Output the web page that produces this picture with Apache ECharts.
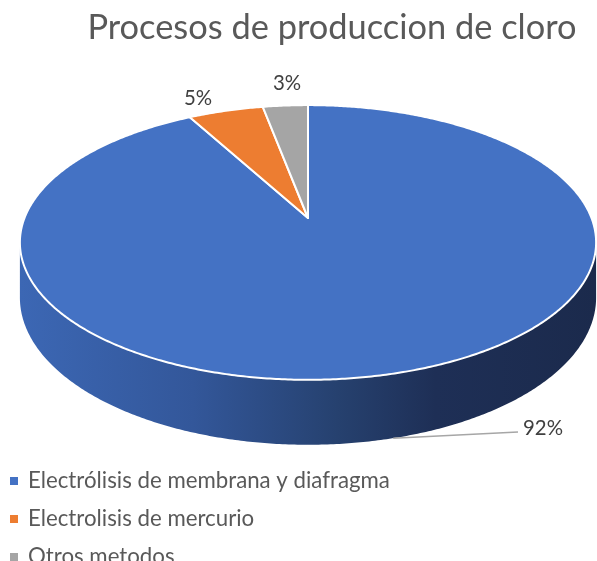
<!DOCTYPE html>
<html>
<head>
<meta charset="utf-8">
<script src="https://cdn.jsdelivr.net/npm/echarts@6/dist/echarts.min.js"></script>
<style>
  html, body { margin: 0; padding: 0; background: #fff; }
  #chart { width: 597px; height: 561px; }
</style>
</head>
<body>
<div id="chart"></div>
<script>
// data
const categories = ['Electrólisis de membrana y diafragma', 'Electrolisis de mercurio', 'Otros metodos'];
const shares = [92, 5, 3];
const pctLabels = ['92%', '5%', '3%'];
const titleText = 'Procesos de produccion de cloro';

const colors = ['#4472C4', '#ED7D31', '#A5A5A5'];
const FONT = 'Lato';

// layout of the tilted pie (perspective-ish projection)
const CX = 308, CY = 218, RX = 283.5, RY = 133, P = 0.178, DEPTH = 53.4;
// where excel placed the labels
const labelPos = [[523, 428, 'left'], [198, 98, 'center'], [287, 83, 'center']];
const leaderEnd = [518, 432];

const total = shares.reduce((a, b) => a + b, 0);

// fit font size to a measured width from the picture
const measureCtx = document.createElement('canvas').getContext('2d');
function fitSize(text, width) {
  measureCtx.font = '100px ' + FONT;
  return 100 * width / measureCtx.measureText(text).width;
}
const titleSize = fitSize(titleText, 489);
const legendSize = fitSize(categories[0], 362);
const labelSize = fitSize('92%', 40);

function proj(theta, down) {
  const X = Math.sin(theta), Z = Math.cos(theta);
  const s = 1 / (1 + P * Z);
  return [CX + RX * X * s, CY - RY * Z * s + (down ? DEPTH * s : 0)];
}

function rimPoints(a1, a2, down) {
  const pts = [];
  const n = Math.max(2, Math.ceil((a2 - a1) / (Math.PI / 360)) + 1);
  for (let k = 0; k < n; k++) {
    pts.push(proj(a1 + (a2 - a1) * k / (n - 1), down));
  }
  return pts;
}

const frontL = Math.acos(-P);
const frontR = 2 * Math.PI - frontL;

const wallGradient = new echarts.graphic.LinearGradient(20, 0, 597, 0, [
  { offset: 0, color: '#3c67b4' },
  { offset: 0.3, color: '#33579a' },
  { offset: 0.55, color: '#26416f' },
  { offset: 0.72, color: '#1e2f56' },
  { offset: 1, color: '#1b2a4c' }
], true);

function renderSlice(params, api) {
  const i = params.seriesIndex;
  let before = 0;
  for (let k = 0; k < i; k++) before += shares[k];
  const a1 = before / total * 2 * Math.PI;
  const a2 = (before + api.value(0)) / total * 2 * Math.PI;
  const children = [];

  // side wall, only the part facing us
  const w1 = Math.max(a1, frontL), w2 = Math.min(a2, frontR);
  if (w2 > w1) {
    const top = rimPoints(w1, w2, false);
    const bottom = rimPoints(w1, w2, true).reverse();
    children.push({
      type: 'polygon',
      shape: { points: top.concat(bottom) },
      style: { fill: wallGradient, stroke: null }
    });
  }

  // top face
  children.push({
    type: 'polygon',
    shape: { points: [[CX, CY]].concat(rimPoints(a1, a2, false)) },
    style: { fill: colors[i], stroke: '#fff', lineWidth: 2, lineJoin: 'round' }
  });

  // label
  const lp = labelPos[i];
  if (i === 0) {
    const start = proj((a1 + a2) / 2, true);
    children.push({
      type: 'polyline',
      shape: { points: [start, leaderEnd] },
      style: { stroke: '#A6A6A6', lineWidth: 1.5, fill: null }
    });
  }
  children.push({
    type: 'text',
    style: {
      x: lp[0], y: lp[1], text: pctLabels[i],
      fill: '#404040', font: labelSize.toFixed(1) + 'px ' + FONT,
      align: lp[2], verticalAlign: 'middle'
    }
  });
  return { type: 'group', children };
}

const chart = echarts.init(document.getElementById('chart'));

const series = categories.map((name, i) => ({
  type: 'custom',
  name: name,
  coordinateSystem: 'none',
  itemStyle: { color: colors[i] },
  data: [shares[i]],
  renderItem: renderSlice,
  animation: false
}));

chart.setOption({
  animation: false,
  graphic: [{
    type: 'text',
    style: {
      x: 332, y: 28, text: titleText,
      fill: '#595959', font: titleSize.toFixed(1) + 'px ' + FONT,
      align: 'center', verticalAlign: 'middle'
    }
  }],
  legend: {
    orient: 'vertical',
    left: 10,
    top: 470,
    height: 150,
    padding: 0,
    icon: 'rect',
    itemWidth: 8,
    itemHeight: 8,
    itemGap: 16,
    data: categories,
    textStyle: {
      color: '#595959',
      fontFamily: FONT,
      fontSize: legendSize,
      lineHeight: 16,
      padding: [0, 0, 0, 5]
    }
  },
  series: series
});
</script>
</body>
</html>
